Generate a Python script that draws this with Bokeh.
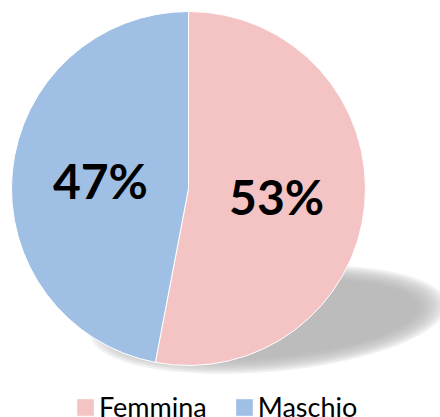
import math
from bokeh.plotting import figure
from bokeh.models import Range1d, ColumnDataSource, Legend, LegendItem
from bokeh.embed import file_html
from bokeh.resources import INLINE
from bokeh.core.properties import value

# data
categories = ["Femmina", "Maschio"]
values = [53, 47]
colors = ["#F4C4C5", "#9FBFE5"]
labels = ["53%", "47%"]

W, H = 440, 417
p = figure(width=W, height=H, output_backend="svg", toolbar_location=None,
           x_range=Range1d(0, W), y_range=Range1d(0, H),
           min_border=0, outline_line_color=None)
p.axis.visible = False
p.grid.visible = False
p.background_fill_color = "white"
p.border_fill_color = "white"

cx, cy, r = 188, 229, 177

# shadow (blurred ellipse stack)
sh_x, sh_y, sh_w, sh_h, sh_a = 268, 98, 300, 76, math.radians(5)
n = 10
for i in range(n):
    grow = (n - 1 - i) * 3.2
    p.ellipse(x=sh_x, y=sh_y, width=sh_w + grow * 2, height=sh_h + grow,
              angle=sh_a, fill_color="#b4b4b4", fill_alpha=0.17, line_color=None)

total = sum(values)
starts, ends, mids = [], [], []
acc = 0.0
for v in values:
    a0 = math.pi / 2 - 2 * math.pi * acc / total
    a1 = math.pi / 2 - 2 * math.pi * (acc + v) / total
    starts.append(a0)
    ends.append(a1)
    mids.append((a0 + a1) / 2)
    acc += v

renderers = []
for i in range(len(values)):
    rr = p.wedge(x=cx, y=cy, radius=r, start_angle=starts[i], end_angle=ends[i],
                 direction="clock", fill_color=colors[i], line_color="white",
                 line_width=1)
    renderers.append(rr)

lx = [cx + 0.5 * r * math.cos(m) for m in mids]
ly = [cy + 0.5 * r * math.sin(m) for m in mids]
p.text(x=lx, y=ly, text=labels, text_font=value("Lato"), text_font_style="bold",
       text_font_size="48px", text_align="center", text_baseline="middle",
       text_color="black")

legend = Legend(items=[LegendItem(label=categories[i], renderers=[renderers[i]])
                       for i in range(len(values))],
                orientation="horizontal", location=(74, -6),
                glyph_width=22, glyph_height=22, label_standoff=3, spacing=26,
                padding=0, margin=0, border_line_alpha=0, background_fill_alpha=0,
                label_text_font="Lato", label_text_font_size="27px",
                label_text_color="black")
p.add_layout(legend, "center")

open("out.html", "w").write(file_html(p, INLINE))
